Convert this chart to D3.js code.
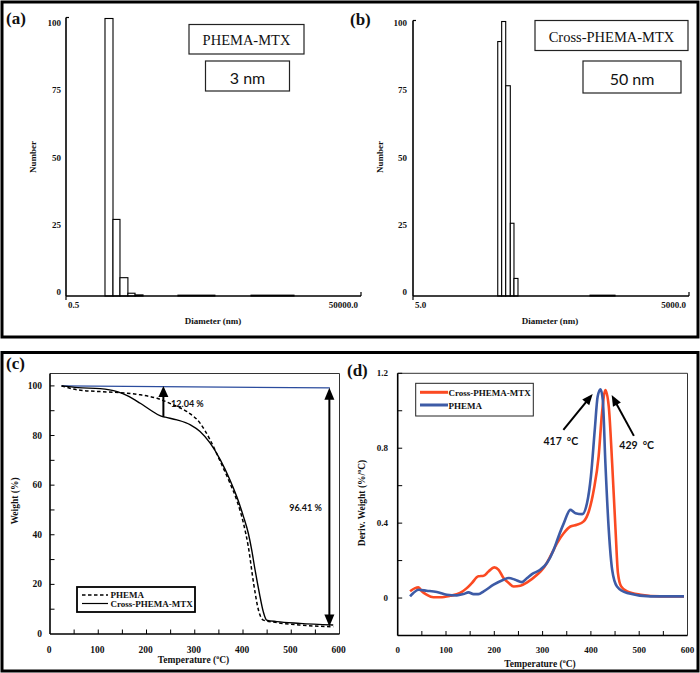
<!DOCTYPE html>
<html><head><meta charset="utf-8">
<script src="https://cdn.jsdelivr.net/npm/d3@7"></script>
<style>body{margin:0;background:#fff}svg{display:block}</style>
</head><body>
<svg id="fig" width="700" height="673"></svg>
<script>
// ---------- DATA ----------
// (a) PHEMA-MTX size distribution (log bins, nm)
const binStartA = [2.29, 3.13, 4.11, 5.6, 7.4, 39.5, 684];
const binEndA   = [3.13, 4.11, 5.6, 7.4, 10.1, 167, 3660];
const countA    = [100, 27.6, 6.6, 1.0, 0.4, 0.3, 0.3];
const xTicksA   = [0.5, 50000];
// (b) Cross-PHEMA-MTX size distribution
const binStartB = [41.7, 46.0, 50.9, 57.1, 62.6, 420];
const binEndB   = [46.0, 50.9, 57.1, 62.6, 69.2, 785];
const countB    = [92.7, 100, 76.6, 26.5, 6.4, 0.3];
const xTicksB   = [5, 5000];
const numberTicks = [0, 25, 50, 75, 100];
// (c) TGA
const tgaTempCross   = [24, 58, 104, 139, 160, 187, 208, 229, 239, 263, 291, 311, 332, 353, 373, 387, 401, 411, 418, 425, 434, 442, 449, 470, 518, 587];
const tgaWeightCross = [100, 99.3, 98.9, 97.7, 96.1, 93, 90.3, 87.9, 87.4, 86.3, 84.3, 81.6, 76.9, 70.2, 62.1, 55.4, 47.3, 40.6, 33.9, 25.8, 16.4, 9.0, 5.6, 5.0, 4.3, 3.6];
const tgaTempPhema   = [24, 58, 104, 146, 187, 222, 256, 284, 311, 332, 353, 373, 387, 401, 411, 422, 432, 442, 470, 518, 587];
const tgaWeightPhema = [100, 98.4, 97.7, 97.3, 96.4, 95, 92.3, 89.6, 85, 78.2, 69.5, 60.8, 54, 44.6, 35.2, 20.4, 9.7, 5.6, 4.6, 3.6, 2.9];
const refTemp   = [24, 580];
const refWeight = [100, 99.2];
const tempTicks = [0, 100, 200, 300, 400, 500, 600];
const weightTicks = [0, 20, 40, 60, 80, 100];
// (d) DTG
const dtgTempCross = [25.6, 36, 43, 50, 60, 74, 88, 108.6, 129, 143, 153.5, 167, 178, 188, 200, 209, 219, 230, 240, 254, 268, 288.5, 302, 316, 330, 344, 357.5, 371, 385, 395.6, 406, 416, 423, 430, 437, 444, 451, 456, 462.6, 475, 503, 544, 592.7];
const dtgValCross  = [0.036, 0.053, 0.057, 0.036, 0.018, 0.004, 0.004, 0.012, 0.027, 0.053, 0.08, 0.116, 0.119, 0.142, 0.164, 0.151, 0.107, 0.08, 0.062, 0.066, 0.084, 0.124, 0.16, 0.222, 0.293, 0.347, 0.382, 0.391, 0.409, 0.462, 0.578, 0.756, 0.987, 1.111, 1.022, 0.72, 0.364, 0.133, 0.062, 0.036, 0.018, 0.009, 0.009];
const dtgTempPhema = [25.6, 32.5, 43, 60, 81, 101.7, 122.4, 136, 146.6, 157, 167, 178, 198.5, 219, 230, 243, 257, 268, 278, 295, 309, 323, 333, 344, 357.5, 368, 382, 392, 400, 408, 414, 420, 424.6, 430, 437, 444, 454, 475, 523.5, 592.7];
const dtgValPhema  = [0.009, 0.027, 0.044, 0.039, 0.032, 0.018, 0.014, 0.021, 0.030, 0.021, 0.021, 0.036, 0.071, 0.098, 0.107, 0.098, 0.085, 0.107, 0.128, 0.151, 0.187, 0.258, 0.329, 0.40, 0.471, 0.453, 0.448, 0.507, 0.649, 0.898, 1.076, 1.115, 1.058, 0.72, 0.364, 0.151, 0.062, 0.027, 0.009, 0.009];
const derivTicks = [0, 0.4, 0.8, 1.2];

// ---------- STYLE ----------
const SERIF = "'Liberation Serif','Times New Roman',serif";
const SANS = "Lato,'Open Sans',sans-serif";
const RED = "#fb4a22", BLUE = "#3d5ba6";
const svg = d3.select("#fig");

svg.append("rect").attr("x",2).attr("y",2).attr("width",696).attr("height",335)
  .attr("fill","none").attr("stroke","#000").attr("stroke-width",3);
svg.append("rect").attr("x",2).attr("y",352.5).attr("width",696).attr("height",318.5)
  .attr("fill","none").attr("stroke","#000").attr("stroke-width",3);

function text(x, y, s, o = {}) {
  return svg.append("text").attr("x", x).attr("y", y).text(s)
    .attr("font-family", o.family || SERIF).attr("font-size", o.size || 9)
    .attr("font-weight", o.weight || "bold").attr("text-anchor", o.anchor || "start")
    .attr("dominant-baseline", "central").attr("fill", "#111");
}
function line(x1, y1, x2, y2, w = 1, c = "#000") {
  return svg.append("line").attr("x1",x1).attr("y1",y1).attr("x2",x2).attr("y2",y2)
    .attr("stroke", c).attr("stroke-width", w);
}
function head(x1, y1, x2, y2, len, wid) {
  const a = Math.atan2(y2 - y1, x2 - x1);
  const bx = x2 - len * Math.cos(a), by = y2 - len * Math.sin(a);
  const px = -Math.sin(a) * wid / 2, py = Math.cos(a) * wid / 2;
  svg.append("path").attr("d", `M${x2},${y2}L${bx+px},${by+py}L${bx-px},${by-py}Z`).attr("fill", "#000");
}
function arrow(x1, y1, x2, y2, w, len, wid, both) {
  const a = Math.atan2(y2 - y1, x2 - x1);
  const sx = both ? x1 + (len-2)*Math.cos(a) : x1, sy = both ? y1 + (len-2)*Math.sin(a) : y1;
  line(sx, sy, x2 - (len-2)*Math.cos(a), y2 - (len-2)*Math.sin(a), w);
  head(x1, y1, x2, y2, len, wid);
  if (both) head(x2, y2, x1, y1, len, wid);
}
function boxLabel(x, y, w, h, s, o) {
  svg.append("rect").attr("x",x).attr("y",y).attr("width",w).attr("height",h)
    .attr("fill","#fff").attr("stroke","#222").attr("stroke-width",1.2);
  text(x + w/2, y + h/2 + 1, s, Object.assign({ anchor: "middle" }, o));
}
function degLabel(x, y, pre, anchor, rotate) {
  const t = svg.append("text").attr("font-family", SERIF).attr("font-size", 9.5)
    .attr("font-weight", "bold").attr("text-anchor", "middle").attr("fill", "#111");
  if (rotate) t.attr("transform", `translate(${x},${y}) rotate(-90)`).attr("dy", "0.35em");
  else t.attr("x", x).attr("y", y).attr("dy", "0.35em");
  t.append("tspan").text(pre + "(" + (anchor || ""));
  t.append("tspan").attr("font-size", 6).attr("dy", "-0.7em").text("o");
  t.append("tspan").attr("dy", "0.45em").text("C)");
  return t;
}

// ---------- (a) & (b) histograms ----------
function histogram(cfg) {
  const x = d3.scaleLog().domain(cfg.domain).range([cfg.x0, cfg.x1]);
  const y = d3.scaleLinear().domain([0, 100]).range([296, cfg.yTop]);
  const yl = d3.scaleLinear().domain([0, 100]).range([292, 23]);
  const data = cfg.start.map((s, i) => ({ s, e: cfg.end[i], n: cfg.count[i] }));
  svg.append("g").selectAll("rect").data(data).join("rect")
    .attr("x", d => x(d.s)).attr("width", d => x(d.e) - x(d.s))
    .attr("y", d => y(d.n)).attr("height", d => y(0) - y(d.n))
    .attr("fill", "#fff").attr("stroke", "#000").attr("stroke-width", 1.1);
  line(cfg.x0, 296, cfg.x1, 296, 1.6);
  line(cfg.x0, 296, cfg.x0, y(100) - 1, 1.6);
  line(cfg.x0, y(100) - 1, cfg.x0 + 3, y(100) - 1, 1.2);
  line(cfg.x0, 296, cfg.x0, 300, 1.2);
  line(cfg.x1, 296, cfg.x1, 292, 1.2);
  numberTicks.forEach(v => text(cfg.yLab, yl(v), v, { anchor: "end" }));
  text(x(cfg.ticks[0]) + 2, 305, cfg.ticks[0].toFixed(1), { anchor: "start" });
  text(x(cfg.ticks[1]) - 3, 305, cfg.ticks[1].toFixed(1), { anchor: "end" });
  svg.append("text").attr("transform", `translate(${cfg.numX},157) rotate(-90)`)
    .attr("text-anchor", "middle").attr("dy", "0.35em").attr("font-family", SERIF)
    .attr("font-size", 9).attr("font-weight", "bold").attr("fill", "#111").text("Number");
  text(cfg.titleX, 321, "Diameter (nm)", { anchor: "middle" });
}
histogram({ domain: [0.5, 50000], x0: 66, x1: 361, yTop: 18.5, start: binStartA, end: binEndA,
  count: countA, ticks: xTicksA, yLab: 61, numX: 32.5, titleX: 213 });
histogram({ domain: [5, 5000], x0: 413, x1: 689, yTop: 21.5, start: binStartB, end: binEndB,
  count: countB, ticks: xTicksB, yLab: 407, numX: 380, titleX: 550 });

text(6, 18, "(a)", { size: 17 });
text(350, 19, "(b)", { size: 17 });
boxLabel(189, 24.5, 115, 29.5, "PHEMA-MTX", { size: 14.5, weight: "normal" });
boxLabel(205.5, 61, 84, 30, "3 nm", { size: 16, weight: "normal", family: SANS });
boxLabel(535, 20.5, 153, 30, "Cross-PHEMA-MTX", { size: 14.5, weight: "normal" });
boxLabel(583, 61, 98, 32, "50 nm", { size: 16, weight: "normal", family: SANS });

// ---------- (c) TGA ----------
const xC = d3.scaleLinear().domain([0, 600]).range([50, 339.5]);
const yC = d3.scaleLinear().domain([0, 105]).range([634, 373.5]);
line(50, 373.5, 339.5, 373.5, 1, "#333");
line(339.5, 373.5, 339.5, 634, 1, "#333");
line(50, 634, 339.5, 634, 1.6);
line(50, 634, 50, 373.5, 1.6);
d3.range(50, 600, 50).forEach(v => line(xC(v), 634, xC(v), 629.5, 1));
d3.range(10, 101, 10).forEach(v => line(50, yC(v), 54.5, yC(v), 1));
tempTicks.forEach(v => text(xC(v) - 1, 650, v, { size: 9.5, anchor: "middle" }));
weightTicks.forEach(v => text(42, yC(v), v, { size: 9.5, anchor: "end" }));
svg.append("text").attr("transform", "translate(15,501) rotate(-90)").attr("text-anchor", "middle")
  .attr("dy", "0.35em").attr("font-family", SERIF).attr("font-size", 9.5).attr("font-weight", "bold")
  .attr("fill", "#111").text("Weight (%)");
degLabel(193.5, 660, "Temperature ");

const lineC = (tx, ty) => d3.line().x((d, i) => xC(tx[i])).y((d, i) => yC(ty[i])).curve(d3.curveMonotoneX)(tx);
svg.append("path").attr("d", lineC(refTemp, refWeight)).attr("fill", "none").attr("stroke", "#2b4c9e").attr("stroke-width", 1.2);
svg.append("path").attr("d", lineC(tgaTempPhema, tgaWeightPhema)).attr("fill", "none").attr("stroke", "#000")
  .attr("stroke-width", 1.5).attr("stroke-dasharray", "3.5,2.5");
svg.append("path").attr("d", lineC(tgaTempCross, tgaWeightCross)).attr("fill", "none").attr("stroke", "#000").attr("stroke-width", 1.4);
arrow(xC(235), yC(87.4), xC(235), yC(100), 2, 11, 10, false);
arrow(xC(579), yC(3.0), xC(579), yC(99.3), 2, 12, 10, true);
text(xC(251), yC(93), "12.04 %", { family: SANS, size: 9 });
text(xC(529.5), yC(50.8), "96.41 %", { family: SANS, size: 9, anchor: "middle" });
text(6, 363, "(c)", { size: 17 });

// legend (c)
svg.append("rect").attr("x", 77).attr("y", 587).attr("width", 118).attr("height", 25)
  .attr("fill", "#fff").attr("stroke", "#000").attr("stroke-width", 1.8);
line(82, 595, 108, 595, 1.5).attr("stroke-dasharray", "3.5,2.5");
line(82, 603.5, 108, 603.5, 1.2);
text(110.5, 595, "PHEMA", { size: 9 });
text(110.5, 604, "Cross-PHEMA-MTX", { size: 9 });

// ---------- (d) DTG ----------
const xD = d3.scaleLinear().domain([0, 600]).range([397.7, 687.5]);
const yD = d3.scaleLinear().domain([-0.2, 1.2]).range([635.5, 373.3]);
line(397.7, 373.3, 687.5, 373.3, 1, "#333");
line(687.5, 373.3, 687.5, 635.5, 1, "#333");
line(397.7, 635.5, 687.5, 635.5, 1.6);
line(397.7, 635.5, 397.7, 373.3, 1.6);
d3.range(50, 600, 50).forEach(v => line(xD(v), 635.5, xD(v), 631, 1));
d3.range(-0.2, 1.21, 0.2).forEach(v => line(397.7, yD(v), 402.2, yD(v), 1));
tempTicks.forEach(v => text(xD(v), 650, v, { size: 9, anchor: "middle" }));
derivTicks.forEach(v => text(388, yD(v), v === 0 ? "0" : v.toFixed(1), { size: 9, anchor: "end" }));
degLabel(362, 503, "Deriv. Weight ", "%/", true);
degLabel(540, 663.5, "Temperature ");
text(347, 370, "(d)", { size: 17 });

const lineD = (tx, ty) => d3.line().x((d, i) => xD(tx[i])).y((d, i) => yD(ty[i])).curve(d3.curveMonotoneX)(tx);
svg.append("path").attr("d", lineD(dtgTempCross, dtgValCross)).attr("fill", "none").attr("stroke", RED).attr("stroke-width", 2.6);
svg.append("path").attr("d", lineD(dtgTempPhema, dtgValPhema)).attr("fill", "none").attr("stroke", BLUE).attr("stroke-width", 2.6);

arrow(xD(343), yD(0.898), xD(403.7), yD(1.09), 2, 11, 9, false);
arrow(xD(489), yD(0.866), xD(443), yD(1.084), 2, 11, 9, false);
text(xD(301.8), yD(0.839), "417 \u00A0\u00B0C", { family: SANS, size: 10.5 });
text(xD(458.8), yD(0.818), "429 \u00A0\u00B0C", { family: SANS, size: 10.5 });

// legend (d)
svg.append("rect").attr("x", 415.7).attr("y", 383.3).attr("width", 117.6).attr("height", 32.7)
  .attr("fill", "#fff").attr("stroke", "#222").attr("stroke-width", 1);
line(420, 392.3, 448, 392.3, 3, RED);
line(420, 405, 448, 405, 3, BLUE);
text(448.5, 392.5, "Cross-PHEMA-MTX", { size: 9 });
text(448.5, 405.5, "PHEMA", { size: 9 });
</script>
</body></html>
